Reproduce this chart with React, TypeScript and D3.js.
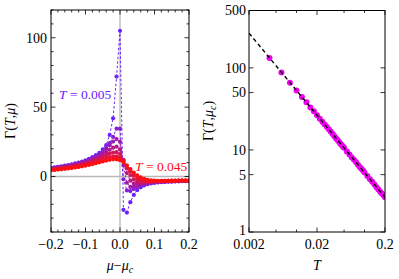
import React, { useEffect, useRef } from 'react';
import * as d3 from 'd3';

// chemical potential offsets (mu - mu_c), shared by every temperature curve
const muGrid = [
    -0.20, -0.19, -0.18, -0.17, -0.16, -0.15, -0.14, -0.13, -0.12, -0.11,
    -0.10, -0.09, -0.08, -0.07, -0.06, -0.05, -0.04, -0.03, -0.02, -0.01,
    0.00, 0.01, 0.02, 0.03, 0.04, 0.05, 0.06, 0.07, 0.08, 0.09,
    0.10, 0.11, 0.12, 0.13, 0.14, 0.15, 0.16, 0.17, 0.18, 0.19, 0.20
];

const temps = [0.005, 0.012, 0.018, 0.025, 0.032, 0.038, 0.045];

const gammaT005 = [
    6.3, 6.6, 7.0, 7.4, 7.8, 8.3, 8.8, 9.4, 10.0, 10.8,
    11.7, 12.7, 14.0, 15.4, 17.0, 19.5, 22.6, 30, 42, 72,
    105, -24, -26, -18.5, -13.3, -9.8, -7.8, -6.5, -5.6, -5.0,
    -4.6, -4.3, -4.1, -3.9, -3.8, -3.7, -3.6, -3.5, -3.4, -3.3, -3.2
];
const gammaT012 = [
    6.0, 6.3, 6.7, 7.0, 7.4, 7.9, 8.4, 8.9, 9.5, 10.2,
    11.0, 11.9, 13.0, 14.3, 16.0, 18.0, 20.5, 24.0, 28.5, 34.5,
    34.5, -2, -10, -10.5, -9.0, -7.5, -6.3, -5.5, -4.9, -4.5,
    -4.2, -4.0, -3.8, -3.7, -3.6, -3.5, -3.4, -3.3, -3.2, -3.2, -3.1
];
const gammaT018 = [
    5.7, 6.0, 6.3, 6.7, 7.1, 7.5, 8.0, 8.5, 9.1, 9.8,
    10.6, 11.5, 12.6, 13.9, 15.5, 17.4, 19.7, 22.5, 25.2, 27.0,
    25.0, 8.0, -4.5, -7.5, -7.5, -6.6, -5.8, -5.1, -4.6, -4.3,
    -4.0, -3.8, -3.7, -3.6, -3.5, -3.4, -3.3, -3.2, -3.2, -3.1, -3.1
];
const gammaT025 = [
    5.4, 5.7, 6.0, 6.3, 6.7, 7.1, 7.5, 8.0, 8.6, 9.2,
    9.9, 10.7, 11.7, 12.8, 14.1, 15.6, 17.3, 19.2, 20.8, 21.5,
    19.5, 11.5, 2.5, -3.0, -5.0, -5.3, -5.0, -4.6, -4.3, -4.0,
    -3.8, -3.6, -3.5, -3.4, -3.3, -3.3, -3.2, -3.2, -3.1, -3.1, -3.0
];
const gammaT032 = [
    5.1, 5.4, 5.7, 6.0, 6.3, 6.7, 7.1, 7.5, 8.0, 8.6,
    9.2, 9.9, 10.8, 11.7, 12.8, 14.0, 15.3, 16.5, 17.3, 17.5,
    16.2, 12.0, 6.0, 1.0, -2.0, -3.5, -4.0, -4.0, -3.9, -3.7,
    -3.6, -3.5, -3.4, -3.3, -3.2, -3.2, -3.1, -3.1, -3.0, -3.0, -3.0
];
const gammaT038 = [
    4.8, 5.1, 5.3, 5.6, 5.9, 6.2, 6.6, 7.0, 7.4, 7.9,
    8.5, 9.1, 9.8, 10.6, 11.5, 12.4, 13.3, 14.0, 14.5, 14.5,
    13.6, 11.2, 7.5, 3.8, 0.8, -1.3, -2.5, -3.1, -3.4, -3.4,
    -3.4, -3.3, -3.3, -3.2, -3.2, -3.1, -3.1, -3.0, -3.0, -3.0, -2.9
];
const gammaT045 = [
    4.5, 4.7, 5.0, 5.2, 5.5, 5.8, 6.1, 6.5, 6.9, 7.3,
    7.8, 8.3, 8.9, 9.5, 10.2, 10.9, 11.5, 12.0, 12.4, 12.4,
    11.8, 10.3, 8.0, 5.3, 2.8, 0.8, -0.7, -1.7, -2.4, -2.8,
    -3.0, -3.1, -3.1, -3.1, -3.1, -3.0, -3.0, -3.0, -2.9, -2.9, -2.9
];

// Gamma at mu_c vs temperature
const tCrit = [
    0.004, 0.006, 0.008, 0.010, 0.012, 0.014, 0.016, 0.018, 0.020, 0.022,
    0.024, 0.026, 0.028, 0.030, 0.032, 0.034, 0.036, 0.038, 0.040, 0.042,
    0.044, 0.046, 0.048, 0.050, 0.055, 0.060, 0.065, 0.070, 0.075, 0.080,
    0.085, 0.090, 0.095, 0.100, 0.110, 0.120, 0.130, 0.140, 0.150, 0.160,
    0.170, 0.180, 0.190, 0.200
];
const gammaCrit = [
    132, 88, 66, 53, 44, 38, 33, 29.5, 26.5, 24,
    22, 20.4, 19, 17.7, 16.6, 15.6, 14.7, 13.9, 13.2, 12.6,
    12.0, 11.5, 11.0, 10.6, 9.6, 8.8, 8.1, 7.6, 7.1, 6.6,
    6.2, 5.9, 5.6, 5.3, 4.8, 4.4, 4.1, 3.8, 3.5, 3.3,
    3.1, 2.95, 2.8, 2.65
];
const fitT = [0.002, 0.2];
const fitGamma = [265, 2.65];

const muTicks = [-0.2, -0.1, 0.0, 0.1, 0.2];
const muTickLabels = ["\u22120.2", "\u22120.1", "0.0", "0.1", "0.2"];
const gammaTicks = [0, 50, 100];
const logTTicks = [0.002, 0.02, 0.2];
const logTTickLabels = ["0.002", "0.02", "0.2"];
const logTMinor = [0.005, 0.01, 0.05, 0.1];
const logGammaTicks = [1, 5, 10, 50, 100, 500];

const App = () => {
    const svgRef = useRef(null);

    useEffect(() => {
        const svg = d3.select(svgRef.current);
        svg.selectAll("*").remove();

        const font = "Liberation Serif, DejaVu Serif, serif";
        const series = [gammaT005, gammaT012, gammaT018, gammaT025, gammaT032, gammaT038, gammaT045];
        const color = d3.scaleLinear()
            .domain([temps[0], temps[temps.length - 1]])
            .range(["#6b22ff", "#ff1010"])
            .interpolate(d3.interpolateRgb);

        //left panel scales
        const xL = d3.scaleLinear().domain([-0.2, 0.2]).range([51, 189]);
        const yL = d3.scaleLinear().domain([-40, 120]).range([232, 10]);

        //right panel scales
        const xR = d3.scaleLog().domain([0.002, 0.2]).range([249, 385]);
        const yR = d3.scaleLog().domain([1, 500]).range([232, 10.5]);

        const defs = svg.append("defs");
        defs.append("clipPath").attr("id", "clipL")
            .append("rect").attr("x", 51).attr("y", 10).attr("width", 138).attr("height", 222);
        defs.append("clipPath").attr("id", "clipR")
            .append("rect").attr("x", 249).attr("y", 10.5).attr("width", 136).attr("height", 221.5);

        //grey axes through origin
        svg.append("line")
            .attr("x1", xL(0)).attr("x2", xL(0)).attr("y1", 10).attr("y2", 232)
            .attr("stroke", "#b8b8b8").attr("stroke-width", 1.3);
        svg.append("line")
            .attr("x1", 51).attr("x2", 189).attr("y1", yL(0)).attr("y2", yL(0))
            .attr("stroke", "#b8b8b8").attr("stroke-width", 1.3);

        //temperature curves
        const gL = svg.append("g").attr("clip-path", "url(#clipL)");
        const line = d3.line<number>()
            .x((d, i) => xL(muGrid[i]))
            .y(d => yL(d));
        series.forEach((vals, k) => {
            const c = color(temps[k]);
            gL.append("path")
                .datum(vals)
                .attr("fill", "none")
                .attr("stroke", c)
                .attr("stroke-width", 1)
                .attr("stroke-dasharray", "2.5,2")
                .attr("d", line);
            gL.selectAll(null)
                .data(vals)
                .enter().append("circle")
                .attr("cx", (d, i) => xL(muGrid[i]))
                .attr("cy", d => yL(d))
                .attr("r", 2.1)
                .attr("fill", c);
        });

        //right panel data
        const gR = svg.append("g").attr("clip-path", "url(#clipR)");
        gR.selectAll(null)
            .data(tCrit)
            .enter().append("circle")
            .attr("cx", d => xR(d))
            .attr("cy", (d, i) => yR(gammaCrit[i]))
            .attr("r", 3)
            .attr("fill", "#f000f0");
        gR.append("path")
            .datum(fitT)
            .attr("fill", "none")
            .attr("stroke", "#000")
            .attr("stroke-width", 1.4)
            .attr("stroke-dasharray", "4,3")
            .attr("d", d3.line<number>().x(d => xR(d)).y((d, i) => yR(fitGamma[i])));

        //frames
        const frame = (x0, y0, x1, y1) => svg.append("rect")
            .attr("x", x0).attr("y", y0).attr("width", x1 - x0).attr("height", y1 - y0)
            .attr("fill", "none").attr("stroke", "#000").attr("stroke-width", 1);
        frame(51, 10, 189, 232);
        frame(249, 10.5, 385, 232);

        const tick = (x1, y1, x2, y2) => svg.append("line")
            .attr("x1", x1).attr("y1", y1).attr("x2", x2).attr("y2", y2)
            .attr("stroke", "#000").attr("stroke-width", 0.8);

        //left panel ticks
        d3.range(-20, 21).forEach(k => {
            const v = k / 100;
            if (k % 2 !== 0) return;
            const major = k % 10 === 0;
            const len = major ? 4.5 : 2.5;
            tick(xL(v), 232, xL(v), 232 - len);
            tick(xL(v), 10, xL(v), 10 + len);
        });
        d3.range(-4, 13).forEach(k => {
            const v = k * 10;
            const major = v % 50 === 0;
            const len = major ? 4.5 : 2.5;
            tick(51, yL(v), 51 + len, yL(v));
            tick(189, yL(v), 189 - len, yL(v));
        });

        muTicks.forEach((v, i) => {
            svg.append("text")
                .attr("x", xL(v)).attr("y", 249)
                .attr("text-anchor", "middle")
                .attr("font-family", font).attr("font-size", 14)
                .text(muTickLabels[i]);
        });
        gammaTicks.forEach(v => {
            svg.append("text")
                .attr("x", 47).attr("y", yL(v)).attr("dy", "0.35em")
                .attr("text-anchor", "end")
                .attr("font-family", font).attr("font-size", 14)
                .text(v);
        });

        //right panel ticks
        logTTicks.forEach(v => {
            tick(xR(v), 232, xR(v), 227.5);
            tick(xR(v), 10.5, xR(v), 15);
        });
        logTMinor.forEach(v => {
            tick(xR(v), 232, xR(v), 229.5);
            tick(xR(v), 10.5, xR(v), 13);
        });
        logGammaTicks.forEach(v => {
            tick(249, yR(v), 253.5, yR(v));
            tick(385, yR(v), 380.5, yR(v));
        });
        logTTicks.forEach((v, i) => {
            svg.append("text")
                .attr("x", xR(v)).attr("y", 249)
                .attr("text-anchor", "middle")
                .attr("font-family", font).attr("font-size", 14)
                .text(logTTickLabels[i]);
        });
        logGammaTicks.forEach(v => {
            svg.append("text")
                .attr("x", 246).attr("y", v === 1 ? yR(v) - 2 : yR(v)).attr("dy", "0.35em")
                .attr("text-anchor", "end")
                .attr("font-family", font).attr("font-size", 14)
                .text(v);
        });

        //curve annotations
        const note = (x, y, fill, val) => {
            const t = svg.append("text")
                .attr("x", x).attr("y", y)
                .attr("font-family", font).attr("font-size", 13.5)
                .attr("fill", fill);
            t.append("tspan").attr("font-style", "italic").text("T");
            t.append("tspan").text(" = " + val);
        };
        note(59, 99, color(temps[0]), "0.005");
        note(135, 171, color(temps[temps.length - 1]), "0.045");

        //axis labels
        const yLabel = (x, sub) => {
            const t = svg.append("text")
                .attr("transform", `translate(${x},121) rotate(-90)`)
                .attr("text-anchor", "middle")
                .attr("font-family", font).attr("font-size", 14);
            t.append("tspan").text("\u0393(");
            t.append("tspan").attr("font-style", "italic").text("T");
            t.append("tspan").text(",");
            t.append("tspan").attr("font-style", "italic").text("\u03bc");
            if (sub) {
                t.append("tspan").attr("font-style", "italic").attr("font-size", 10).attr("dy", 3).text("c");
                t.append("tspan").attr("dy", -3).text(")");
            } else {
                t.append("tspan").text(")");
            }
        };
        yLabel(15, false);
        yLabel(213, true);

        const xl = svg.append("text")
            .attr("x", 120).attr("y", 270)
            .attr("text-anchor", "middle")
            .attr("font-family", font).attr("font-size", 14);
        xl.append("tspan").attr("font-style", "italic").text("\u03bc");
        xl.append("tspan").text("\u2212");
        xl.append("tspan").attr("font-style", "italic").text("\u03bc");
        xl.append("tspan").attr("font-style", "italic").attr("font-size", 10).attr("dy", 3).text("c");

        svg.append("text")
            .attr("x", xR(0.02)).attr("y", 270)
            .attr("text-anchor", "middle")
            .attr("font-family", font).attr("font-size", 14)
            .attr("font-style", "italic")
            .text("T");
    }, []);

    return (
        <svg
            ref={svgRef}
            width={399}
            height={279}
            style={{ position: 'absolute', left: 0, top: 0, background: '#fff' }}
        ></svg>
    );
};

export default App;
